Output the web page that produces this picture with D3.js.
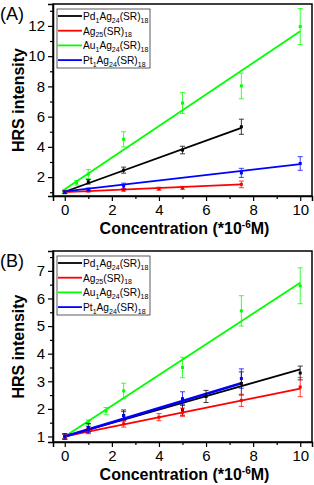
<!DOCTYPE html>
<html><head><meta charset="utf-8">
<script src="https://cdn.jsdelivr.net/npm/d3@7"></script>
<style>body{margin:0;background:#fff}svg{display:block;font-family:"Liberation Sans",Arial,sans-serif}</style>
</head><body><svg id="c" width="314" height="485"></svg>
<script>
// ---------- data ----------
const seriesNames = ["Pd1Ag24", "Ag25", "Au1Ag24", "Pt1Ag24"];
const seriesColors = ["#000000", "#ff0000", "#00ff00", "#0000ff"];
const xTicks = [0, 2, 4, 6, 8, 10];

// Panel A
const A_pd_x = [0, 1, 2.5, 5, 7.5];
const A_pd_y = [1.0, 1.69, 2.46, 3.79, 5.33];
const A_pd_e = [0.1, 0.15, 0.2, 0.25, 0.5];
const A_ag_x = [0, 1, 2.5, 4, 5, 7.5];
const A_ag_y = [1.0, 1.09, 1.15, 1.23, 1.29, 1.52];
const A_ag_e = [0.08, 0.08, 0.08, 0.1, 0.1, 0.22];
const A_au_x = [0, 0.5, 1, 2.5, 5, 7.5, 10];
const A_au_y = [1.1, 1.62, 2.2, 4.5, 6.9, 8.03, 11.96];
const A_au_e = [0.1, 0.15, 0.3, 0.5, 0.7, 0.85, 1.19];
const A_pt_x = [0, 1, 2.5, 7.5, 10];
const A_pt_y = [1.0, 1.18, 1.4, 2.28, 2.9];
const A_pt_e = [0.08, 0.1, 0.2, 0.3, 0.45];
// fit lines: [intercept, slope, xEnd]
const A_fits = [[1.03, 0.564, 7.5], [1.0, 0.07, 7.5], [1.19, 1.046, 10], [1.05, 0.181, 10]];
const A_yTicks = [2, 4, 6, 8, 10, 12];

// Panel B
const B_pd_x = [0, 1, 2.5, 5, 6, 7.5, 10];
const B_pd_y = [1.0, 1.32, 1.76, 1.97, 2.45, 2.92, 3.3];
const B_pd_e = [0.1, 0.15, 0.2, 0.2, 0.22, 0.42, 0.25];
const B_ag_x = [0, 1, 2.5, 4, 5, 7.5, 10];
const B_ag_y = [1.0, 1.2, 1.46, 1.70, 1.88, 2.31, 2.79];
const B_ag_e = [0.08, 0.1, 0.12, 0.13, 0.15, 0.22, 0.35];
const B_au_x = [0, 1, 1.75, 2.5, 5, 7.5, 10];
const B_au_y = [1.0, 1.52, 1.92, 2.65, 3.5, 5.55, 6.46];
const B_au_e = [0.08, 0.08, 0.13, 0.28, 0.37, 0.55, 0.65];
const B_pt_x = [0, 1, 2.5, 5, 7.5];
const B_pt_y = [1.0, 1.25, 1.75, 2.37, 3.1];
const B_pt_e = [0.1, 0.12, 0.15, 0.25, 0.35];
const B_fits = [[1.0, 0.243, 10], [1.0, 0.173, 10], [1.0, 0.557, 10], [1.0, 0.257, 7.5]];
const B_yTicks = [1, 2, 3, 4, 5, 6, 7];

// ---------- drawing ----------
const svg = d3.select("#c");
const L = 53, R = 312;

function panel(cfg) {
  const g = svg.append("g");
  const x = d3.scaleLinear().domain([-0.5, 10.5]).range([L, R]);
  const y = d3.scaleLinear().domain(cfg.yDomain).range([cfg.bottom, cfg.top]);
  const series = [
    {x: cfg.pd[0], y: cfg.pd[1], e: cfg.pd[2]},
    {x: cfg.ag[0], y: cfg.ag[1], e: cfg.ag[2]},
    {x: cfg.au[0], y: cfg.au[1], e: cfg.au[2]},
    {x: cfg.pt[0], y: cfg.pt[1], e: cfg.pt[2]}
  ];
  // frame
  g.append("rect").attr("x", L).attr("y", cfg.top).attr("width", R - L).attr("height", cfg.bottom - cfg.top)
    .attr("fill", "none").attr("stroke", "#000").attr("stroke-width", 1.5);
  // axes
  g.append("g").attr("transform", `translate(0,${cfg.bottom})`)
    .call(d3.axisBottom(x).tickValues(xTicks).tickSize(5).tickPadding(3).tickFormat(d3.format("d")));
  g.append("g").attr("transform", `translate(0,${cfg.bottom})`)
    .call(d3.axisBottom(x).tickValues(d3.range(1, 11, 2)).tickSize(3).tickFormat(""))
    .call(s => s.select(".domain").remove());
  g.append("g").attr("transform", `translate(${L},0)`)
    .call(d3.axisLeft(y).tickValues(cfg.yTicks).tickSize(5).tickPadding(3).tickFormat(d3.format("d")));
  g.append("g").attr("transform", `translate(${L},0)`)
    .call(d3.axisLeft(y).tickValues(cfg.yMinor).tickSize(3).tickFormat(""))
    .call(s => s.select(".domain").remove());
  g.selectAll(".domain").attr("stroke-width", 1.5);
  g.selectAll(".tick line").attr("stroke-width", 1.2);
  g.selectAll(".tick text").attr("font-size", 15).attr("fill", "#000").attr("font-family", "Liberation Sans, Arial, sans-serif");
  // fits + data
  const order = [2, 0, 1, 3];
  order.forEach(i => {
    const f = cfg.fits[i];
    g.append("line").attr("x1", x(0)).attr("y1", y(f[0])).attr("x2", x(f[2])).attr("y2", y(f[0] + f[1] * f[2]))
      .attr("stroke", seriesColors[i]).attr("stroke-width", (cfg.thickBlue && i === 3) ? 2.6 : 1.8);
  });
  order.forEach(i => {
    const s = series[i];
    const pts = s.x.map((xv, k) => ({x: xv, y: s.y[k], e: s.e[k]}));
    const eg = g.append("g").attr("stroke", seriesColors[i]).attr("stroke-width", 0.9).attr("opacity", 0.85);
    eg.selectAll("line.v").data(pts).join("line")
      .attr("x1", d => x(d.x)).attr("x2", d => x(d.x)).attr("y1", d => y(d.y - d.e)).attr("y2", d => y(d.y + d.e));
    eg.selectAll("line.t").data(pts).join("line")
      .attr("x1", d => x(d.x) - 2.5).attr("x2", d => x(d.x) + 2.5).attr("y1", d => y(d.y + d.e)).attr("y2", d => y(d.y + d.e));
    eg.selectAll("line.b").data(pts).join("line")
      .attr("x1", d => x(d.x) - 2.5).attr("x2", d => x(d.x) + 2.5).attr("y1", d => y(d.y - d.e)).attr("y2", d => y(d.y - d.e));
    g.selectAll(null).data(pts).join("rect")
      .attr("x", d => x(d.x) - 1.5).attr("y", d => y(d.y) - 1.5).attr("width", 3).attr("height", 3)
      .attr("fill", seriesColors[i]);
  });
  // legend
  const lg = g.append("g");
  lg.append("rect").attr("x", 57).attr("y", cfg.top + 5).attr("width", 93).attr("height", 59)
    .attr("fill", "#fff").attr("stroke", "#333").attr("stroke-width", 0.8);
  const labels = [
    [["Pd", 0], ["1", 1], ["Ag", 0], ["24", 1], ["(SR)", 0], ["18", 1]],
    [["Ag", 0], ["25", 1], ["(SR)", 0], ["18", 1]],
    [["Au", 0], ["1", 1], ["Ag", 0], ["24", 1], ["(SR)", 0], ["18", 1]],
    [["Pt", 0], ["1", 1], ["Ag", 0], ["24", 1], ["(SR)", 0], ["18", 1]]
  ];
  seriesNames.forEach((n, i) => {
    const yy = cfg.top + 12 + i * 14.7;
    lg.append("line").attr("x1", 58).attr("x2", 82).attr("y1", yy).attr("y2", yy)
      .attr("stroke", seriesColors[i]).attr("stroke-width", 1.8);
    const t = lg.append("text").attr("x", 83).attr("y", yy + 4).attr("font-size", 10.2).attr("fill", "#000");
    let sub = false;
    labels[i].forEach(p => {
      if (p[1]) { t.append("tspan").attr("font-size", 7).attr("dy", 2.5).text(p[0]); sub = true; }
      else { t.append("tspan").attr("dy", sub ? -2.5 : 0).text(p[0]); sub = false; }
    });
  });
  // titles
  svg.append("text").attr("x", 0).attr("y", cfg.top + 16).attr("font-size", 18).text(cfg.label);
  svg.append("text").attr("transform", `translate(24,${(cfg.top + cfg.bottom) / 2}) rotate(-90)`)
    .attr("text-anchor", "middle").attr("font-size", 16).attr("font-weight", "bold").text("HRS intensity");
  const xt = svg.append("text").attr("x", (L + R) / 2 + 2).attr("y", cfg.bottom + 38).attr("text-anchor", "middle")
    .attr("font-size", 16).attr("font-weight", "bold");
  xt.append("tspan").text("Concentration (*10");
  xt.append("tspan").attr("dy", -6).attr("font-size", 10).text("-6");
  xt.append("tspan").attr("dy", 6).text("M)");
}

panel({label: "(A)", top: 4, bottom: 196, yDomain: [0.75, 13.45], yTicks: A_yTicks, yMinor: [1, 3, 5, 7, 9, 11, 13],
  pd: [A_pd_x, A_pd_y, A_pd_e], ag: [A_ag_x, A_ag_y, A_ag_e], au: [A_au_x, A_au_y, A_au_e], pt: [A_pt_x, A_pt_y, A_pt_e],
  fits: A_fits, thickBlue: false});
panel({label: "(B)", top: 251, bottom: 442, yDomain: [0.8, 7.72], yTicks: B_yTicks, yMinor: [1.5, 2.5, 3.5, 4.5, 5.5, 6.5, 7.5],
  pd: [B_pd_x, B_pd_y, B_pd_e], ag: [B_ag_x, B_ag_y, B_ag_e], au: [B_au_x, B_au_y, B_au_e], pt: [B_pt_x, B_pt_y, B_pt_e],
  fits: B_fits, thickBlue: true});
</script></body></html>
